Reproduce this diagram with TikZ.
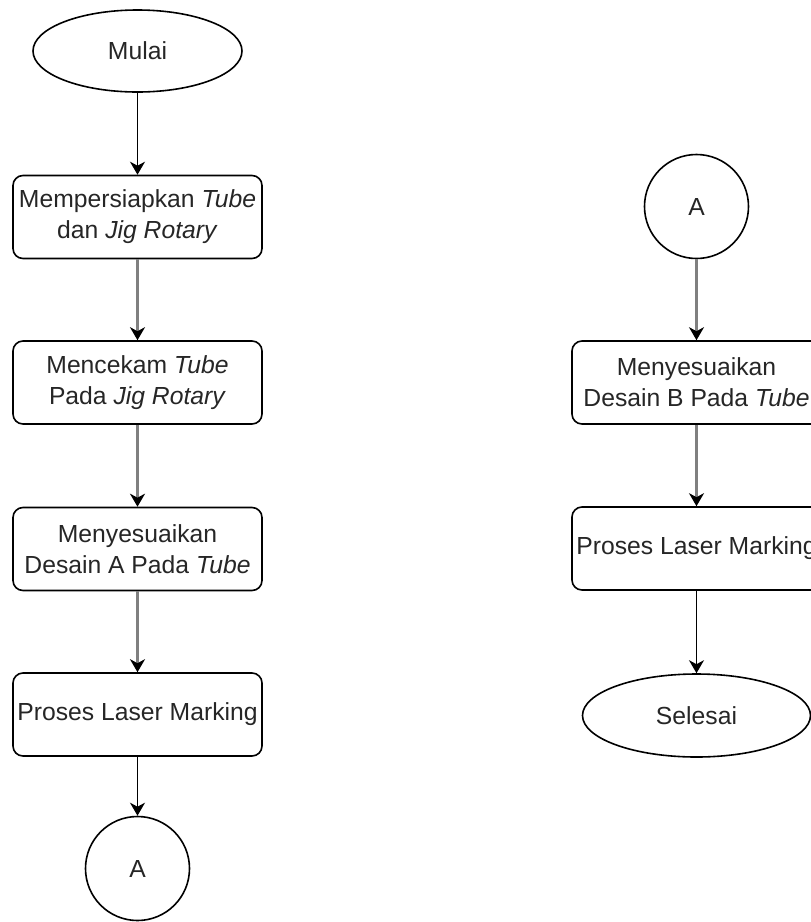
\documentclass[tikz,border=0pt]{standalone}
\usepackage{fontspec}
\setmainfont{Liberation Sans}
\usetikzlibrary{shapes.geometric,arrows.meta}
\begin{document}
\begin{tikzpicture}[x=1pt,y=-1pt,
 every node/.style={font=\fontsize{24.7}{31}\selectfont, align=center, text=black!85},
 procbox/.style={draw, rounded corners=10pt, line width=1.6pt, minimum width=249pt, minimum height=83pt, inner sep=0pt},
 term/.style={draw, ellipse, line width=1.6pt, inner sep=0pt},
 conn/.style={draw, circle, line width=1.6pt, minimum size=104pt, inner sep=0pt},
 arr/.style={-{Stealth[length=13pt,width=15pt,inset=4pt,color=black]}, line width=1.7pt, draw=black},
 garr/.style={arr, draw=black!50, line width=2.2pt}
]
\useasboundingbox (0,0) rectangle (811,922);
\node[term, minimum width=209pt, minimum height=82pt] (mulai) at (137.5,51) {Mulai};
\node[procbox] (p1) at (137.5,217) {Mempersiapkan \textit{Tube}\\dan \textit{Jig Rotary}};
\node[procbox] (p2) at (137.5,382.5) {Mencekam \textit{Tube}\\Pada \textit{Jig Rotary}};
\node[procbox] (p3) at (137.5,549) {Menyesuaikan\\Desain A Pada \textit{Tube}};
\node[procbox] (p4) at (137.5,714.5) {Proses Laser Marking};
\node[conn] (a1) at (137.5,868.5) {A};
\node[conn] (a2) at (696.5,206.5) {A};
\node[procbox] (q1) at (696.5,382.5) {Menyesuaikan\\Desain B Pada \textit{Tube}};
\node[procbox] (q2) at (696.5,548.5) {Proses Laser Marking};
\node[term, minimum width=228pt, minimum height=83pt] (sel) at (696.5,715.5) {Selesai};
\draw[arr] (mulai) -- (p1);
\draw[garr] (p1) -- (p2);
\draw[garr] (p2) -- (p3);
\draw[garr] (p3) -- (p4);
\draw[arr] (p4) -- (a1);
\draw[garr] (a2) -- (q1);
\draw[garr] (q1) -- (q2);
\draw[arr] (q2) -- (sel);
\end{tikzpicture}
\end{document}
